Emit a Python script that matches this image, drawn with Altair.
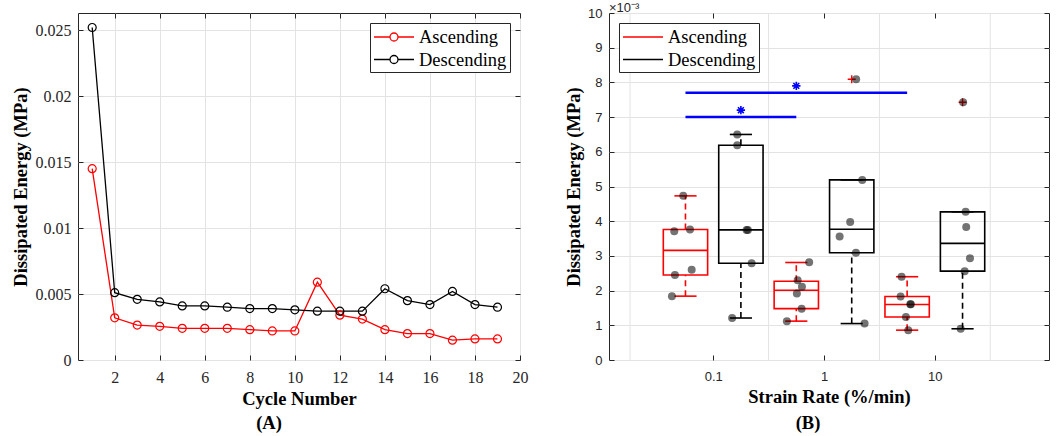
import altair as alt
import pandas as pd

# ---------------- Panel (A) data ----------------
cycles = list(range(1, 20))
ascending_A = [0.0145, 0.0032, 0.00265, 0.00255, 0.0024, 0.0024, 0.0024, 0.0023, 0.0022, 0.0022,
               0.0059, 0.0034, 0.0031, 0.0023, 0.0020, 0.0020, 0.0015, 0.0016, 0.0016]
descending_A = [0.0252, 0.0051, 0.0046, 0.0044, 0.0041, 0.0041, 0.0040, 0.0039, 0.0039, 0.0038,
                0.0037, 0.0037, 0.0037, 0.0054, 0.0045, 0.0042, 0.0052, 0.0042, 0.0040]
series_names = ["Ascending", "Descending"]
x_ticks_A = [2, 4, 6, 8, 10, 12, 14, 16, 18, 20]
y_ticks_A = [0, 0.005, 0.01, 0.015, 0.02, 0.025]

# ---------------- Panel (B) data ----------------
# box positions on a log10(strain rate) axis
box_pos = [-1.25, -0.75, -0.25, 0.25, 0.75, 1.25]
box_series = ["Ascending", "Descending", "Ascending", "Descending", "Ascending", "Descending"]
box_q1 = [2.45, 2.79, 1.48, 3.09, 1.24, 2.56]
box_q3 = [3.76, 6.19, 2.27, 5.19, 1.83, 4.27]
box_median = [3.16, 3.75, 2.01, 3.77, 1.60, 3.36]
box_wlo = [1.84, 1.21, 1.12, 1.05, 0.86, 0.90]
box_whi = [4.73, 6.50, 2.81, 5.19, 2.40, 4.27]

pt_pos = [-1.372, -1.270, -1.351, -1.209, -1.345, -1.194,
          -0.783, -0.783, -0.699, -0.687, -0.653, -0.829,
          -0.134, -0.238, -0.199, -0.245, -0.202, -0.335,
          0.345, 0.236, 0.141, 0.288, 0.366, 0.290,
          0.700, 0.691, 0.778, 0.784, 0.739, 0.760,
          1.278, 1.283, 1.317, 1.269, 1.233, 1.255]
pt_val = [1.84, 4.73, 3.71, 3.76, 2.45, 2.60,
          6.50, 6.19, 3.75, 3.75, 2.79, 1.21,
          2.82, 2.30, 2.11, 1.92, 1.48, 1.12,
          5.19, 3.98, 3.56, 3.09, 1.05, 8.09,
          2.40, 1.83, 1.61, 1.61, 1.24, 0.86,
          4.27, 3.83, 2.93, 2.56, 0.90, 7.43]

outlier_pos = [0.25, 1.25]
outlier_val = [8.09, 7.43]

sig_start = [-1.25, -1.25]
sig_end = [-0.25, 0.75]
sig_level = [7.0, 7.7]
star_pos = [-0.75, -0.25]
star_val = [7.2, 7.9]

grid_pos_B = [-1.75, -0.5, 0.5, 1.5]
x_ticks_B = [-1, 0, 1]
y_ticks_B = list(range(0, 11))
exponent_label = ["\u00d710\u207b\u00b3"]

# ---------------- styling ----------------
SERIF = "Liberation Serif"
SANS = "Liberation Sans"
AXC = "#262626"
GRIDC = "#e3e3e3"
color_scale = alt.Scale(domain=series_names, range=["#ff0000", "#000000"])


def tick_axis(orient, values):
    return alt.Axis(orient=orient, values=values, offset=-5, tickSize=5, ticks=True,
                    tickColor=AXC, tickWidth=1, labels=False, domain=False, grid=False,
                    title=None)


def make_legend(orient, symbol_path):
    return alt.Legend(title=None, orient=orient, offset=10, symbolType=symbol_path,
                      symbolSize=400, symbolStrokeWidth=1.3, symbolFillColor="white",
                      labelFont=SERIF, labelFontSize=18.5, labelColor="black",
                      labelOffset=24, padding=3, rowPadding=1.5,
                      strokeColor=AXC, fillColor="white")


# ---------------- Panel (A) ----------------
dfA = pd.DataFrame({
    "cycle": cycles + cycles,
    "energy": ascending_A + descending_A,
    "series": [series_names[0]] * len(cycles) + [series_names[1]] * len(cycles),
})
xA = alt.Scale(domain=[0.37, 20], nice=False, zero=False)
yA = alt.Scale(domain=[0, 0.0263], nice=False, zero=False)
legend_A = make_legend("top-right", "M-1,0H0.6M1.4,0H3M0.6,0A0.4,0.4,0,1,1,1.4,0A0.4,0.4,0,1,1,0.6,0")

baseA = alt.Chart(dfA)
line_A = baseA.mark_line(strokeWidth=1.3).encode(
    x=alt.X("cycle:Q", scale=xA, axis=alt.Axis(
        values=x_ticks_A, grid=True, gridColor=GRIDC, gridWidth=1, ticks=False, tickSize=0,
        domain=False, labelFont=SERIF, labelFontSize=16, labelColor=AXC, labelPadding=9,
        labelFlush=False, labelOverlap=False, title="Cycle Number", titleFont=SERIF,
        titleFontSize=18.5, titleFontWeight="bold", titleColor="black", titlePadding=4)),
    y=alt.Y("energy:Q", scale=yA, axis=alt.Axis(
        values=y_ticks_A, labelExpr="format(datum.value, '~g')", grid=True, gridColor=GRIDC,
        gridWidth=1, ticks=False, tickSize=0, domain=False, labelFont=SERIF, labelFontSize=16,
        labelColor=AXC, labelPadding=7, labelFlush=False, labelOverlap=False,
        title="Dissipated Energy (MPa)", titleFont=SERIF, titleFontSize=18.5,
        titleFontWeight="bold", titleColor="black", titlePadding=5)),
    color=alt.Color("series:N", scale=color_scale, legend=legend_A),
)
points_A = baseA.mark_point(shape="circle", size=64, filled=False, strokeWidth=1.2, opacity=1).encode(
    x=alt.X("cycle:Q", scale=xA, axis=tick_axis("bottom", x_ticks_A)),
    y=alt.Y("energy:Q", scale=yA, axis=tick_axis("left", y_ticks_A)),
    color=alt.Color("series:N", scale=color_scale, legend=legend_A),
)
ticks_A = baseA.mark_point(opacity=0).encode(
    x=alt.X("cycle:Q", scale=xA, axis=tick_axis("top", x_ticks_A)),
    y=alt.Y("energy:Q", scale=yA, axis=tick_axis("right", y_ticks_A)),
)
panel_A = alt.layer(line_A, points_A, ticks_A).resolve_axis(
    x="independent", y="independent"
).properties(
    width=442, height=347,
    title=alt.TitleParams("(A)", orient="bottom", anchor="middle", font=SERIF, fontSize=18.5,
                          fontWeight="bold", color="black", offset=6, dx=-30),
)

# ---------------- Panel (B) ----------------
xB = alt.Scale(domain=[-1.94, 2.03], nice=False, zero=False)
yB = alt.Scale(domain=[0, 10], nice=False, zero=False)
legend_B = make_legend("top-left", "M-1,0H3")

dfBox = pd.DataFrame({
    "pos": box_pos, "series": box_series, "q1": box_q1, "q3": box_q3,
    "median": box_median, "wlo": box_wlo, "whi": box_whi,
})
dfPts = pd.DataFrame({"pos": pt_pos, "val": pt_val})
dfOut = pd.DataFrame({"pos": outlier_pos, "val": outlier_val})
dfSig = pd.DataFrame({"start": sig_start, "end": sig_end, "level": sig_level})
dfStar = pd.DataFrame({"pos": star_pos, "val": star_val})
dfGrid = pd.DataFrame({"pos": grid_pos_B})
dfExp = pd.DataFrame({"t": exponent_label})

NOAX = None

grid_B = alt.Chart(dfGrid).mark_rule(color=GRIDC, strokeWidth=1).encode(
    x=alt.X("pos:Q", scale=xB, axis=NOAX),
)

boxbase = alt.Chart(dfBox).transform_calculate(
    left="datum.pos - 0.2", right="datum.pos + 0.2",
    capl="datum.pos - 0.1", capr="datum.pos + 0.1",
)
col_B = alt.Color("series:N", scale=color_scale, legend=legend_B)

box_B = boxbase.mark_rect(filled=False, strokeWidth=1.6).encode(
    x=alt.X("left:Q", scale=xB, axis=alt.Axis(
        values=x_ticks_B, labelExpr="format(pow(10, datum.value), '~g')", grid=False,
        ticks=False, tickSize=0, domain=False, labelFont=SANS, labelFontSize=13,
        labelColor=AXC, labelPadding=10, labelFlush=False, labelOverlap=False,
        title="Strain Rate (%/min)", titleFont=SERIF, titleFontSize=18.5,
        titleFontWeight="bold", titleColor="black", titlePadding=4)),
    x2="right:Q",
    y=alt.Y("q1:Q", scale=yB, axis=alt.Axis(
        values=y_ticks_B, grid=True, gridColor=GRIDC, gridWidth=1, ticks=False, tickSize=0,
        domain=False, labelFont=SANS, labelFontSize=13, labelColor=AXC, labelPadding=7,
        labelFlush=False, labelOverlap=False, title="Dissipated Energy (MPa)",
        titleFont=SERIF, titleFontSize=18.5, titleFontWeight="bold", titleColor="black",
        titlePadding=4)),
    y2="q3:Q",
    color=col_B,
)
whisk_lo = boxbase.mark_rule(strokeWidth=1.6, strokeDash=[6, 4]).encode(
    x=alt.X("pos:Q", scale=xB, axis=NOAX), y=alt.Y("wlo:Q", scale=yB, axis=NOAX), y2="q1:Q",
    color=col_B)
whisk_hi = boxbase.mark_rule(strokeWidth=1.6, strokeDash=[6, 4]).encode(
    x=alt.X("pos:Q", scale=xB, axis=NOAX), y=alt.Y("q3:Q", scale=yB, axis=NOAX), y2="whi:Q",
    color=col_B)
cap_lo = boxbase.mark_rule(strokeWidth=1.6).encode(
    x=alt.X("capl:Q", scale=xB, axis=NOAX), x2="capr:Q",
    y=alt.Y("wlo:Q", scale=yB, axis=NOAX), color=col_B)
cap_hi = boxbase.mark_rule(strokeWidth=1.6).encode(
    x=alt.X("capl:Q", scale=xB, axis=NOAX), x2="capr:Q",
    y=alt.Y("whi:Q", scale=yB, axis=NOAX), color=col_B)
med_B = boxbase.mark_rule(strokeWidth=1.6).encode(
    x=alt.X("left:Q", scale=xB, axis=NOAX), x2="right:Q",
    y=alt.Y("median:Q", scale=yB, axis=NOAX), color=col_B)

out_B = alt.Chart(dfOut).mark_point(shape="M-1,0H1M0,-1V1", size=64, filled=False,
                                    color="#ff0000", strokeWidth=1.4, opacity=1).encode(
    x=alt.X("pos:Q", scale=xB, axis=NOAX), y=alt.Y("val:Q", scale=yB, axis=NOAX))
pts_B = alt.Chart(dfPts).mark_point(shape="circle", size=64, filled=True, color="#000000",
                                    opacity=0.55, strokeWidth=0).encode(
    x=alt.X("pos:Q", scale=xB, axis=tick_axis("bottom", x_ticks_B)),
    y=alt.Y("val:Q", scale=yB, axis=tick_axis("left", y_ticks_B)),
)
sig_B = alt.Chart(dfSig).mark_rule(color="#0000ff", strokeWidth=2.5).encode(
    x=alt.X("start:Q", scale=xB, axis=NOAX), x2="end:Q",
    y=alt.Y("level:Q", scale=yB, axis=NOAX))
star_B = alt.Chart(dfStar).mark_point(
    shape="M-1,0H1M0,-1V1M-0.7,-0.7L0.7,0.7M-0.7,0.7L0.7,-0.7", size=70, filled=False,
    color="#0000ff", strokeWidth=1.6, opacity=1).encode(
    x=alt.X("pos:Q", scale=xB, axis=NOAX), y=alt.Y("val:Q", scale=yB, axis=NOAX))
ticks_B = alt.Chart(dfPts).mark_point(opacity=0).encode(
    x=alt.X("pos:Q", scale=xB, axis=tick_axis("top", x_ticks_B)),
    y=alt.Y("val:Q", scale=yB, axis=tick_axis("right", y_ticks_B)),
)
exp_B = alt.Chart(dfExp).mark_text(align="left", baseline="alphabetic", font=SANS,
                                   fontSize=13, color=AXC).encode(
    x=alt.value(0), y=alt.value(-1), text="t:N")

panel_B = alt.layer(grid_B, box_B, whisk_lo, whisk_hi, cap_lo, cap_hi, med_B, out_B, pts_B,
                    sig_B, star_B, ticks_B, exp_B).resolve_axis(
    x="independent", y="independent"
).properties(
    width=440, height=347,
    title=alt.TitleParams("(B)", orient="bottom", anchor="middle", font=SERIF, fontSize=18.5,
                          fontWeight="bold", color="black", offset=8, dx=-21),
)

chart = alt.hconcat(panel_A, panel_B, spacing=89, bounds="flush").resolve_scale(
    color="independent"
).properties(
    autosize=alt.AutoSizeParams(type="none"),
    padding={"left": 78, "top": 13, "right": 979, "bottom": 423},
    background="white",
).configure_view(stroke=AXC, strokeWidth=1)

chart.save("out.html", embed_options={"renderer": "svg", "actions": False})
